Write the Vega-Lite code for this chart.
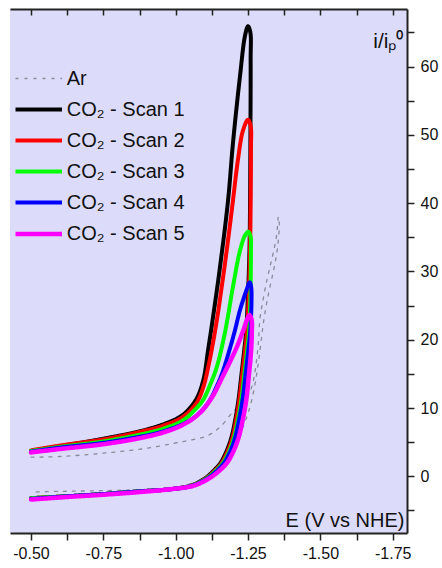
{
  "$schema": "https://vega.github.io/schema/vega-lite/v6.json",
  "width": 397,
  "height": 524,
  "autosize": "none",
  "padding": {"left": 10, "top": 9, "right": 35, "bottom": 35},
  "background": "white",
  "config": {
    "font": "Liberation Sans",
    "view": {"fill": "#dcdcfa", "stroke": null}
  },
  "data": {"values": [
    {"s":"Ar","i":1,"E":-0.50,"j":2.8},{"s":"Ar","i":2,"E":-0.60,"j":2.9},{"s":"Ar","i":3,"E":-0.70,"j":3.2},{"s":"Ar","i":4,"E":-0.80,"j":3.6},{"s":"Ar","i":5,"E":-0.90,"j":4.1},{"s":"Ar","i":6,"E":-0.99,"j":4.8},{"s":"Ar","i":7,"E":-1.05,"j":5.3},{"s":"Ar","i":8,"E":-1.107,"j":5.9},{"s":"Ar","i":9,"E":-1.153,"j":7.2},{"s":"Ar","i":10,"E":-1.199,"j":9.5},{"s":"Ar","i":11,"E":-1.234,"j":10.9},{"s":"Ar","i":12,"E":-1.257,"j":12.4},{"s":"Ar","i":13,"E":-1.27,"j":14.3},{"s":"Ar","i":14,"E":-1.279,"j":16.8},{"s":"Ar","i":15,"E":-1.286,"j":19.7},{"s":"Ar","i":16,"E":-1.291,"j":23.0},{"s":"Ar","i":17,"E":-1.303,"j":26.1},{"s":"Ar","i":18,"E":-1.315,"j":28.7},{"s":"Ar","i":19,"E":-1.326,"j":30.7},{"s":"Ar","i":20,"E":-1.337,"j":32.7},{"s":"Ar","i":21,"E":-1.349,"j":35.3},{"s":"Ar","i":22,"E":-1.355,"j":38.0},{"s":"Ar","i":23,"E":-1.358,"j":37.0},{"s":"Ar","i":24,"E":-1.352,"j":33.5},{"s":"Ar","i":25,"E":-1.34,"j":30.5},{"s":"Ar","i":26,"E":-1.322,"j":27.0},{"s":"Ar","i":27,"E":-1.305,"j":23.0},{"s":"Ar","i":28,"E":-1.293,"j":19.0},{"s":"Ar","i":29,"E":-1.28,"j":15.0},{"s":"Ar","i":30,"E":-1.262,"j":11.0},{"s":"Ar","i":31,"E":-1.24,"j":8.0},{"s":"Ar","i":32,"E":-1.215,"j":5.5},{"s":"Ar","i":33,"E":-1.185,"j":3.2},{"s":"Ar","i":34,"E":-1.15,"j":1.3},{"s":"Ar","i":35,"E":-1.10,"j":-0.3},{"s":"Ar","i":36,"E":-1.0,"j":-1.6},{"s":"Ar","i":37,"E":-0.9,"j":-1.9},{"s":"Ar","i":38,"E":-0.75,"j":-2.1},{"s":"Ar","i":39,"E":-0.6,"j":-2.2},{"s":"Ar","i":40,"E":-0.50,"j":-2.3},

    {"s":"CO₂ - Scan 1","i":1,"E":-0.50,"j":3.7},{"s":"CO₂ - Scan 1","i":2,"E":-0.60,"j":4.4},{"s":"CO₂ - Scan 1","i":3,"E":-0.75,"j":5.5},{"s":"CO₂ - Scan 1","i":4,"E":-0.877,"j":6.6},{"s":"CO₂ - Scan 1","i":5,"E":-0.963,"j":7.7},{"s":"CO₂ - Scan 1","i":6,"E":-1.025,"j":9.0},{"s":"CO₂ - Scan 1","i":7,"E":-1.07,"j":11.2},{"s":"CO₂ - Scan 1","i":8,"E":-1.095,"j":14.0},{"s":"CO₂ - Scan 1","i":9,"E":-1.112,"j":18.5},{"s":"CO₂ - Scan 1","i":10,"E":-1.129,"j":23.3},{"s":"CO₂ - Scan 1","i":11,"E":-1.153,"j":30.6},{"s":"CO₂ - Scan 1","i":12,"E":-1.181,"j":40.4},{"s":"CO₂ - Scan 1","i":13,"E":-1.198,"j":48.8},{"s":"CO₂ - Scan 1","i":14,"E":-1.222,"j":58.5},{"s":"CO₂ - Scan 1","i":15,"E":-1.24,"j":64.6},{"s":"CO₂ - Scan 1","i":16,"E":-1.25,"j":65.9},{"s":"CO₂ - Scan 1","i":17,"E":-1.258,"j":65.0},{"s":"CO₂ - Scan 1","i":18,"E":-1.259,"j":61.0},{"s":"CO₂ - Scan 1","i":19,"E":-1.258,"j":47.8},{"s":"CO₂ - Scan 1","i":20,"E":-1.255,"j":33.2},{"s":"CO₂ - Scan 1","i":21,"E":-1.249,"j":25.8},{"s":"CO₂ - Scan 1","i":22,"E":-1.244,"j":21.4},{"s":"CO₂ - Scan 1","i":23,"E":-1.237,"j":18.5},{"s":"CO₂ - Scan 1","i":24,"E":-1.227,"j":14.8},{"s":"CO₂ - Scan 1","i":25,"E":-1.217,"j":11.2},{"s":"CO₂ - Scan 1","i":26,"E":-1.206,"j":8.3},{"s":"CO₂ - Scan 1","i":27,"E":-1.192,"j":5.6},{"s":"CO₂ - Scan 1","i":28,"E":-1.175,"j":3.6},{"s":"CO₂ - Scan 1","i":29,"E":-1.154,"j":1.9},{"s":"CO₂ - Scan 1","i":30,"E":-1.126,"j":0.6},{"s":"CO₂ - Scan 1","i":31,"E":-1.098,"j":-0.4},{"s":"CO₂ - Scan 1","i":32,"E":-1.05,"j":-1.4},{"s":"CO₂ - Scan 1","i":33,"E":-0.98,"j":-1.9},{"s":"CO₂ - Scan 1","i":34,"E":-0.877,"j":-2.2},{"s":"CO₂ - Scan 1","i":35,"E":-0.75,"j":-2.6},{"s":"CO₂ - Scan 1","i":36,"E":-0.635,"j":-2.9},{"s":"CO₂ - Scan 1","i":37,"E":-0.50,"j":-3.2},

    {"s":"CO₂ - Scan 2","i":1,"E":-0.50,"j":3.8},{"s":"CO₂ - Scan 2","i":2,"E":-0.60,"j":4.5},{"s":"CO₂ - Scan 2","i":3,"E":-0.75,"j":5.4},{"s":"CO₂ - Scan 2","i":4,"E":-0.877,"j":6.5},{"s":"CO₂ - Scan 2","i":5,"E":-0.963,"j":7.5},{"s":"CO₂ - Scan 2","i":6,"E":-1.025,"j":8.7},{"s":"CO₂ - Scan 2","i":7,"E":-1.07,"j":10.6},{"s":"CO₂ - Scan 2","i":8,"E":-1.095,"j":13.0},{"s":"CO₂ - Scan 2","i":9,"E":-1.115,"j":16.5},{"s":"CO₂ - Scan 2","i":10,"E":-1.139,"j":22.0},{"s":"CO₂ - Scan 2","i":11,"E":-1.16,"j":28.0},{"s":"CO₂ - Scan 2","i":12,"E":-1.181,"j":34.6},{"s":"CO₂ - Scan 2","i":13,"E":-1.198,"j":40.4},{"s":"CO₂ - Scan 2","i":14,"E":-1.215,"j":46.3},{"s":"CO₂ - Scan 2","i":15,"E":-1.233,"j":50.7},{"s":"CO₂ - Scan 2","i":16,"E":-1.25,"j":52.2},{"s":"CO₂ - Scan 2","i":17,"E":-1.259,"j":51.3},{"s":"CO₂ - Scan 2","i":18,"E":-1.26,"j":47.8},{"s":"CO₂ - Scan 2","i":19,"E":-1.257,"j":33.2},{"s":"CO₂ - Scan 2","i":20,"E":-1.252,"j":25.8},{"s":"CO₂ - Scan 2","i":21,"E":-1.247,"j":21.4},{"s":"CO₂ - Scan 2","i":22,"E":-1.24,"j":18.5},{"s":"CO₂ - Scan 2","i":23,"E":-1.23,"j":14.8},{"s":"CO₂ - Scan 2","i":24,"E":-1.22,"j":11.2},{"s":"CO₂ - Scan 2","i":25,"E":-1.209,"j":8.3},{"s":"CO₂ - Scan 2","i":26,"E":-1.196,"j":5.6},{"s":"CO₂ - Scan 2","i":27,"E":-1.179,"j":3.6},{"s":"CO₂ - Scan 2","i":28,"E":-1.158,"j":1.9},{"s":"CO₂ - Scan 2","i":29,"E":-1.13,"j":0.6},{"s":"CO₂ - Scan 2","i":30,"E":-1.101,"j":-0.4},{"s":"CO₂ - Scan 2","i":31,"E":-1.052,"j":-1.4},{"s":"CO₂ - Scan 2","i":32,"E":-0.98,"j":-1.9},{"s":"CO₂ - Scan 2","i":33,"E":-0.877,"j":-2.2},{"s":"CO₂ - Scan 2","i":34,"E":-0.75,"j":-2.6},{"s":"CO₂ - Scan 2","i":35,"E":-0.635,"j":-2.9},{"s":"CO₂ - Scan 2","i":36,"E":-0.50,"j":-3.2},

    {"s":"CO₂ - Scan 3","i":1,"E":-0.50,"j":3.7},{"s":"CO₂ - Scan 3","i":2,"E":-0.60,"j":4.3},{"s":"CO₂ - Scan 3","i":3,"E":-0.75,"j":5.1},{"s":"CO₂ - Scan 3","i":4,"E":-0.877,"j":6.1},{"s":"CO₂ - Scan 3","i":5,"E":-0.96,"j":7.0},{"s":"CO₂ - Scan 3","i":6,"E":-1.026,"j":8.2},{"s":"CO₂ - Scan 3","i":7,"E":-1.07,"j":9.9},{"s":"CO₂ - Scan 3","i":8,"E":-1.095,"j":11.2},{"s":"CO₂ - Scan 3","i":9,"E":-1.12,"j":13.5},{"s":"CO₂ - Scan 3","i":10,"E":-1.142,"j":16.0},{"s":"CO₂ - Scan 3","i":11,"E":-1.17,"j":21.0},{"s":"CO₂ - Scan 3","i":12,"E":-1.199,"j":28.0},{"s":"CO₂ - Scan 3","i":13,"E":-1.222,"j":33.0},{"s":"CO₂ - Scan 3","i":14,"E":-1.24,"j":35.3},{"s":"CO₂ - Scan 3","i":15,"E":-1.251,"j":35.8},{"s":"CO₂ - Scan 3","i":16,"E":-1.259,"j":35.0},{"s":"CO₂ - Scan 3","i":17,"E":-1.26,"j":33.0},{"s":"CO₂ - Scan 3","i":18,"E":-1.258,"j":25.8},{"s":"CO₂ - Scan 3","i":19,"E":-1.254,"j":21.4},{"s":"CO₂ - Scan 3","i":20,"E":-1.247,"j":18.5},{"s":"CO₂ - Scan 3","i":21,"E":-1.237,"j":14.8},{"s":"CO₂ - Scan 3","i":22,"E":-1.227,"j":11.2},{"s":"CO₂ - Scan 3","i":23,"E":-1.215,"j":8.3},{"s":"CO₂ - Scan 3","i":24,"E":-1.201,"j":5.6},{"s":"CO₂ - Scan 3","i":25,"E":-1.184,"j":3.6},{"s":"CO₂ - Scan 3","i":26,"E":-1.162,"j":1.9},{"s":"CO₂ - Scan 3","i":27,"E":-1.133,"j":0.6},{"s":"CO₂ - Scan 3","i":28,"E":-1.103,"j":-0.4},{"s":"CO₂ - Scan 3","i":29,"E":-1.053,"j":-1.4},{"s":"CO₂ - Scan 3","i":30,"E":-0.98,"j":-1.9},{"s":"CO₂ - Scan 3","i":31,"E":-0.877,"j":-2.2},{"s":"CO₂ - Scan 3","i":32,"E":-0.75,"j":-2.6},{"s":"CO₂ - Scan 3","i":33,"E":-0.635,"j":-2.9},{"s":"CO₂ - Scan 3","i":34,"E":-0.50,"j":-3.2},

    {"s":"CO₂ - Scan 4","i":1,"E":-0.50,"j":3.6},{"s":"CO₂ - Scan 4","i":2,"E":-0.60,"j":4.2},{"s":"CO₂ - Scan 4","i":3,"E":-0.75,"j":4.9},{"s":"CO₂ - Scan 4","i":4,"E":-0.877,"j":5.8},{"s":"CO₂ - Scan 4","i":5,"E":-0.934,"j":6.3},{"s":"CO₂ - Scan 4","i":6,"E":-1.0,"j":7.2},{"s":"CO₂ - Scan 4","i":7,"E":-1.05,"j":8.2},{"s":"CO₂ - Scan 4","i":8,"E":-1.09,"j":9.6},{"s":"CO₂ - Scan 4","i":9,"E":-1.119,"j":11.2},{"s":"CO₂ - Scan 4","i":10,"E":-1.14,"j":13.0},{"s":"CO₂ - Scan 4","i":11,"E":-1.16,"j":15.0},{"s":"CO₂ - Scan 4","i":12,"E":-1.188,"j":18.8},{"s":"CO₂ - Scan 4","i":13,"E":-1.205,"j":21.4},{"s":"CO₂ - Scan 4","i":14,"E":-1.222,"j":24.3},{"s":"CO₂ - Scan 4","i":15,"E":-1.245,"j":27.3},{"s":"CO₂ - Scan 4","i":16,"E":-1.256,"j":28.4},{"s":"CO₂ - Scan 4","i":17,"E":-1.261,"j":27.6},{"s":"CO₂ - Scan 4","i":18,"E":-1.262,"j":25.8},{"s":"CO₂ - Scan 4","i":19,"E":-1.258,"j":21.4},{"s":"CO₂ - Scan 4","i":20,"E":-1.251,"j":18.5},{"s":"CO₂ - Scan 4","i":21,"E":-1.241,"j":14.8},{"s":"CO₂ - Scan 4","i":22,"E":-1.231,"j":11.2},{"s":"CO₂ - Scan 4","i":23,"E":-1.219,"j":8.3},{"s":"CO₂ - Scan 4","i":24,"E":-1.205,"j":5.6},{"s":"CO₂ - Scan 4","i":25,"E":-1.188,"j":3.6},{"s":"CO₂ - Scan 4","i":26,"E":-1.166,"j":1.9},{"s":"CO₂ - Scan 4","i":27,"E":-1.137,"j":0.6},{"s":"CO₂ - Scan 4","i":28,"E":-1.106,"j":-0.4},{"s":"CO₂ - Scan 4","i":29,"E":-1.055,"j":-1.4},{"s":"CO₂ - Scan 4","i":30,"E":-0.98,"j":-1.9},{"s":"CO₂ - Scan 4","i":31,"E":-0.877,"j":-2.2},{"s":"CO₂ - Scan 4","i":32,"E":-0.75,"j":-2.6},{"s":"CO₂ - Scan 4","i":33,"E":-0.635,"j":-2.9},{"s":"CO₂ - Scan 4","i":34,"E":-0.50,"j":-3.3},

    {"s":"CO₂ - Scan 5","i":1,"E":-0.50,"j":3.5},{"s":"CO₂ - Scan 5","i":2,"E":-0.60,"j":4.0},{"s":"CO₂ - Scan 5","i":3,"E":-0.75,"j":4.7},{"s":"CO₂ - Scan 5","i":4,"E":-0.877,"j":5.6},{"s":"CO₂ - Scan 5","i":5,"E":-0.963,"j":6.5},{"s":"CO₂ - Scan 5","i":6,"E":-1.032,"j":7.7},{"s":"CO₂ - Scan 5","i":7,"E":-1.084,"j":9.3},{"s":"CO₂ - Scan 5","i":8,"E":-1.126,"j":11.6},{"s":"CO₂ - Scan 5","i":9,"E":-1.16,"j":14.4},{"s":"CO₂ - Scan 5","i":10,"E":-1.188,"j":16.8},{"s":"CO₂ - Scan 5","i":11,"E":-1.212,"j":19.0},{"s":"CO₂ - Scan 5","i":12,"E":-1.233,"j":21.3},{"s":"CO₂ - Scan 5","i":13,"E":-1.247,"j":23.0},{"s":"CO₂ - Scan 5","i":14,"E":-1.255,"j":23.6},{"s":"CO₂ - Scan 5","i":15,"E":-1.262,"j":23.0},{"s":"CO₂ - Scan 5","i":16,"E":-1.263,"j":21.0},{"s":"CO₂ - Scan 5","i":17,"E":-1.26,"j":18.0},{"s":"CO₂ - Scan 5","i":18,"E":-1.253,"j":14.8},{"s":"CO₂ - Scan 5","i":19,"E":-1.244,"j":11.2},{"s":"CO₂ - Scan 5","i":20,"E":-1.232,"j":8.3},{"s":"CO₂ - Scan 5","i":21,"E":-1.217,"j":5.6},{"s":"CO₂ - Scan 5","i":22,"E":-1.199,"j":3.6},{"s":"CO₂ - Scan 5","i":23,"E":-1.176,"j":1.9},{"s":"CO₂ - Scan 5","i":24,"E":-1.145,"j":0.6},{"s":"CO₂ - Scan 5","i":25,"E":-1.112,"j":-0.4},{"s":"CO₂ - Scan 5","i":26,"E":-1.06,"j":-1.4},{"s":"CO₂ - Scan 5","i":27,"E":-0.98,"j":-1.9},{"s":"CO₂ - Scan 5","i":28,"E":-0.877,"j":-2.3},{"s":"CO₂ - Scan 5","i":29,"E":-0.75,"j":-2.7},{"s":"CO₂ - Scan 5","i":30,"E":-0.635,"j":-3.0},{"s":"CO₂ - Scan 5","i":31,"E":-0.50,"j":-3.4}
  ]},
  "resolve": {"axis": {"x": "independent", "y": "independent"}},
  "layer": [
    {
      "mark": {"type": "line", "interpolate": "catmull-rom", "strokeCap": "round", "strokeJoin": "round"},
      "encoding": {
        "x": {"field": "E", "type": "quantitative",
          "scale": {"domain": [-1.7994, -0.4274], "reverse": true, "nice": false, "zero": false},
          "axis": {"orient": "bottom", "values": [-0.5,-0.625,-0.75,-0.875,-1,-1.125,-1.25,-1.375,-1.5,-1.625,-1.75],
            "labelExpr": "abs(datum.value*4 - round(datum.value*4)) < 0.01 ? replace(format(datum.value, '.2f'), '−', '-') : ''",
            "labelFontSize": 16, "labelColor": "#111", "labelPadding": 5, "labelFlush": false, "labelOverlap": false,
            "tickSize": 7, "tickWidth": 1.5, "tickColor": "#222", "domainColor": "#222", "domainWidth": 2, "grid": false,
            "title": "E (V vs NHE)", "titleFontSize": 20, "titleFontWeight": "normal", "titleColor": "#111",
            "titleX": 394, "titleY": -7, "titleAlign": "right", "titleBaseline": "alphabetic"}},
        "y": {"field": "j", "type": "quantitative",
          "scale": {"domain": [-8.3, 68.42], "nice": false, "zero": false},
          "axis": {"orient": "right", "values": [-5,0,5,10,15,20,25,30,35,40,45,50,55,60,65],
            "labelExpr": "datum.value % 10 == 0 ? format(datum.value, 'd') : ''",
            "labelFontSize": 16, "labelColor": "#111", "labelPadding": 6, "labelFlush": false, "labelOverlap": false,
            "tickSize": 7, "tickWidth": 1.5, "tickColor": "#222", "domainColor": "#222", "domainWidth": 2, "grid": false,
            "title": "i/iₚ⁰", "titleFontSize": 21, "titleFontWeight": "normal", "titleColor": "#111", "titleAngle": 0,
            "titleX": -4, "titleY": 38, "titleAlign": "right", "titleBaseline": "alphabetic"}},
        "order": {"field": "i", "type": "quantitative"},
        "color": {"field": "s", "type": "nominal",
          "scale": {"domain": ["Ar","CO₂ - Scan 1","CO₂ - Scan 2","CO₂ - Scan 3","CO₂ - Scan 4","CO₂ - Scan 5"],
                    "range": ["#8a8a9c","#000000","#ff0000","#00ff00","#0000ff","#ff00ff"]},
          "legend": {"orient": "none", "legendX": 10.75, "legendY": 53, "title": null,
            "symbolType": "M-1.5,0H1.5", "symbolSize": 961, "labelFontSize": 20, "labelColor": "#111",
            "labelOffset": 10, "rowPadding": 3, "padding": 0, "labelLimit": 300}},
        "strokeDash": {"field": "s", "type": "nominal",
          "scale": {"domain": ["Ar","CO₂ - Scan 1","CO₂ - Scan 2","CO₂ - Scan 3","CO₂ - Scan 4","CO₂ - Scan 5"],
                    "range": [[3,6],[1,0],[1,0],[1,0],[1,0],[1,0]]}},
        "strokeWidth": {"field": "s", "type": "nominal",
          "scale": {"type": "ordinal", "domain": ["Ar","CO₂ - Scan 1","CO₂ - Scan 2","CO₂ - Scan 3","CO₂ - Scan 4","CO₂ - Scan 5"],
                    "range": [1.3,4,4,4,4,4.5]}}
      }
    },
    {
      "mark": {"type": "point", "opacity": 0},
      "encoding": {
        "x": {"field": "E", "type": "quantitative",
          "axis": {"orient": "top", "values": [-0.5,-0.625,-0.75,-0.875,-1,-1.125,-1.25,-1.375,-1.5,-1.625,-1.75],
            "labels": false, "title": null, "tickSize": -6, "tickWidth": 1.5, "tickColor": "#222",
            "domainColor": "#222", "domainWidth": 2, "grid": false}},
        "y": {"field": "j", "type": "quantitative", "axis": null}
      }
    }
  ]
}
